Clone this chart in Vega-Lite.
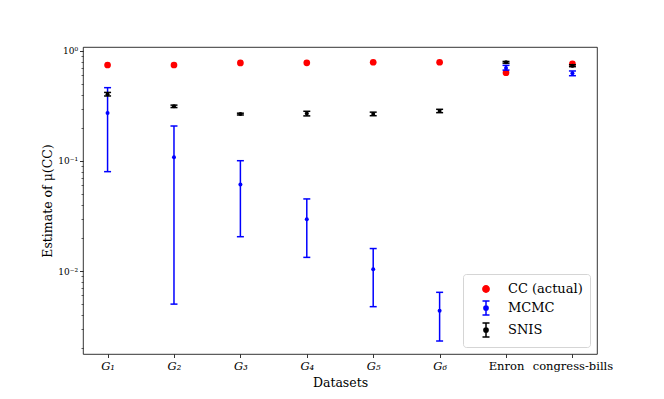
{
  "$schema": "https://vega.github.io/schema/vega-lite/v6.json",
  "width": 514,
  "height": 307,
  "autosize": {"type": "none"},
  "padding": {"left": 83, "top": 47, "right": 67, "bottom": 45},
  "config": {
    "view": {"stroke": "#000000", "strokeWidth": 0.8},
    "font": "DejaVu Serif",
    "axis": {"grid": false, "domain": false, "tickColor": "#000000", "tickWidth": 0.8, "labelColor": "#000000", "titleColor": "#000000", "titleFontWeight": "normal", "labelFont": "DejaVu Serif", "titleFont": "DejaVu Serif"}
  },
  "data": {
    "values": [
      {"ds": "G₁", "series": "CC (actual)", "val": 0.746},
      {"ds": "G₂", "series": "CC (actual)", "val": 0.746},
      {"ds": "G₃", "series": "CC (actual)", "val": 0.778},
      {"ds": "G₄", "series": "CC (actual)", "val": 0.78},
      {"ds": "G₅", "series": "CC (actual)", "val": 0.79},
      {"ds": "G₆", "series": "CC (actual)", "val": 0.79},
      {"ds": "Enron", "series": "CC (actual)", "val": 0.635},
      {"ds": "congress-bills", "series": "CC (actual)", "val": 0.762},
      {"ds": "G₁", "series": "MCMC", "val": 0.273, "lo": 0.08, "hi": 0.464},
      {"ds": "G₂", "series": "MCMC", "val": 0.108, "lo": 0.005, "hi": 0.208},
      {"ds": "G₃", "series": "MCMC", "val": 0.061, "lo": 0.0205, "hi": 0.1006},
      {"ds": "G₄", "series": "MCMC", "val": 0.0295, "lo": 0.0133, "hi": 0.0452},
      {"ds": "G₅", "series": "MCMC", "val": 0.01035, "lo": 0.00474, "hi": 0.016},
      {"ds": "G₆", "series": "MCMC", "val": 0.00436, "lo": 0.00231, "hi": 0.0064},
      {"ds": "Enron", "series": "MCMC", "val": 0.70, "lo": 0.67, "hi": 0.74},
      {"ds": "congress-bills", "series": "MCMC", "val": 0.627, "lo": 0.596, "hi": 0.658},
      {"ds": "G₁", "series": "SNIS", "val": 0.404, "lo": 0.39, "hi": 0.42},
      {"ds": "G₂", "series": "SNIS", "val": 0.314, "lo": 0.306, "hi": 0.322},
      {"ds": "G₃", "series": "SNIS", "val": 0.267, "lo": 0.262, "hi": 0.272},
      {"ds": "G₄", "series": "SNIS", "val": 0.27, "lo": 0.257, "hi": 0.283},
      {"ds": "G₅", "series": "SNIS", "val": 0.268, "lo": 0.258, "hi": 0.278},
      {"ds": "G₆", "series": "SNIS", "val": 0.285, "lo": 0.275, "hi": 0.295},
      {"ds": "Enron", "series": "SNIS", "val": 0.789, "lo": 0.775, "hi": 0.803},
      {"ds": "congress-bills", "series": "SNIS", "val": 0.735, "lo": 0.72, "hi": 0.75}
    ]
  },
  "encoding": {
    "x": {
      "field": "ds",
      "type": "nominal",
      "scale": {"type": "point", "padding": 0.37, "domain": ["G₁", "G₂", "G₃", "G₄", "G₅", "G₆", "Enron", "congress-bills"]},
      "axis": {
        "title": "Datasets",
        "titleFontSize": 12.5,
        "titlePadding": 4,
        "labelFontSize": 11.5,
        "labelPadding": 3,
        "tickSize": 3.5,
        "labelAngle": 0,
        "labelFontStyle": {"condition": {"test": "indexof(datum.value, 'G') === 0", "value": "italic"}, "value": "normal"}
      }
    }
  },
  "layer": [
    {
      "transform": [{"filter": "datum.series === 'CC (actual)'"}],
      "mark": {"type": "point", "filled": true, "shape": "circle", "size": 45, "color": "#ff0000", "opacity": 1},
      "encoding": {
        "y": {
          "field": "val",
          "type": "quantitative",
          "scale": {"type": "log", "domain": [0.00176, 1.087], "nice": false},
          "axis": {
            "orient": "left",
            "values": [0.01, 0.1, 1],
            "labelExpr": "datum.value >= 0.5 ? '10⁰' : datum.value >= 0.05 ? '10⁻¹' : '10⁻²'",
            "labelFontSize": 9,
            "labelPadding": 2,
            "tickSize": 3.5,
            "title": "Estimate of μ(CC)",
            "titleFontSize": 12.5,
            "titlePadding": 3
          }
        }
      }
    },
    {
      "transform": [{"filter": "datum.series === 'MCMC'"}],
      "mark": {"type": "rule", "color": "#0000ff", "strokeWidth": 1.5},
      "encoding": {"y": {"field": "lo", "type": "quantitative", "axis": null}, "y2": {"field": "hi"}}
    },
    {
      "transform": [{"filter": "datum.series === 'MCMC'"}],
      "mark": {"type": "tick", "orient": "horizontal", "color": "#0000ff", "size": 7, "thickness": 1.5, "opacity": 1},
      "encoding": {"y": {"field": "lo", "type": "quantitative", "axis": null}}
    },
    {
      "transform": [{"filter": "datum.series === 'MCMC'"}],
      "mark": {"type": "tick", "orient": "horizontal", "color": "#0000ff", "size": 7, "thickness": 1.5, "opacity": 1},
      "encoding": {"y": {"field": "hi", "type": "quantitative", "axis": null}}
    },
    {
      "transform": [{"filter": "datum.series === 'MCMC'"}],
      "mark": {"type": "point", "filled": true, "shape": "circle", "size": 16, "color": "#0000ff", "opacity": 1},
      "encoding": {"y": {"field": "val", "type": "quantitative", "axis": null}}
    },
    {
      "transform": [{"filter": "datum.series === 'SNIS'"}],
      "mark": {"type": "rule", "color": "#000000", "strokeWidth": 1.5},
      "encoding": {"y": {"field": "lo", "type": "quantitative", "axis": null}, "y2": {"field": "hi"}}
    },
    {
      "transform": [{"filter": "datum.series === 'SNIS'"}],
      "mark": {"type": "tick", "orient": "horizontal", "color": "#000000", "size": 7, "thickness": 1.5, "opacity": 1},
      "encoding": {"y": {"field": "lo", "type": "quantitative", "axis": null}}
    },
    {
      "transform": [{"filter": "datum.series === 'SNIS'"}],
      "mark": {"type": "tick", "orient": "horizontal", "color": "#000000", "size": 7, "thickness": 1.5, "opacity": 1},
      "encoding": {"y": {"field": "hi", "type": "quantitative", "axis": null}}
    },
    {
      "transform": [{"filter": "datum.series === 'SNIS'"}],
      "mark": {"type": "point", "filled": true, "shape": "circle", "size": 16, "color": "#000000", "opacity": 1},
      "encoding": {"y": {"field": "val", "type": "quantitative", "axis": null}}
    },
    {
      "transform": [{"filter": "false"}],
      "mark": {"type": "point", "opacity": 1, "strokeWidth": 1.5},
      "encoding": {
        "y": {
          "field": "val",
          "type": "quantitative",
          "axis": {
            "orient": "left",
            "values": [0.002, 0.003, 0.004, 0.005, 0.006, 0.007, 0.008, 0.009, 0.02, 0.03, 0.04, 0.05, 0.06, 0.07, 0.08, 0.09, 0.2, 0.3, 0.4, 0.5, 0.6, 0.7, 0.8, 0.9],
            "labels": false,
            "tickSize": 2,
            "tickWidth": 0.6,
            "title": null
          }
        },
        "shape": {
          "field": "series",
          "type": "nominal",
          "scale": {
            "domain": ["CC (actual)", "MCMC", "SNIS"],
            "range": [
              "M0.45,0A0.45,0.45,0,1,1,-0.45,0A0.45,0.45,0,1,1,0.45,0Z",
              "M-0.5,-1H0.5M0,-1V1M-0.5,1H0.5M0.3,0A0.3,0.3,0,1,1,-0.3,0A0.3,0.3,0,1,1,0.3,0Z",
              "M-0.5,-1H0.5M0,-1V1M-0.5,1H0.5M0.3,0A0.3,0.3,0,1,1,-0.3,0A0.3,0.3,0,1,1,0.3,0Z"
            ]
          },
          "legend": {
            "title": null,
            "orient": "bottom-right",
            "offset": 7,
            "padding": 7,
            "symbolSize": 196,
            "symbolStrokeWidth": 1.5,
            "symbolOpacity": 1,
            "symbolOffset": 8,
            "labelOffset": 14,
            "labelFontSize": 13,
            "labelFont": "DejaVu Serif",
            "labelColor": "#000000",
            "rowPadding": 2,
            "fillColor": "rgba(255,255,255,0.8)",
            "strokeColor": "#d5d5d5",
            "cornerRadius": 3
          }
        },
        "fill": {
          "field": "series",
          "type": "nominal",
          "scale": {"domain": ["CC (actual)", "MCMC", "SNIS"], "range": ["#ff0000", "#0000ff", "#000000"]},
          "legend": {"title": null, "orient": "bottom-right"}
        },
        "stroke": {
          "field": "series",
          "type": "nominal",
          "scale": {"domain": ["CC (actual)", "MCMC", "SNIS"], "range": ["#ff0000", "#0000ff", "#000000"]},
          "legend": {"title": null, "orient": "bottom-right"}
        }
      }
    }
  ],
  "resolve": {"axis": {"y": "independent"}}
}
